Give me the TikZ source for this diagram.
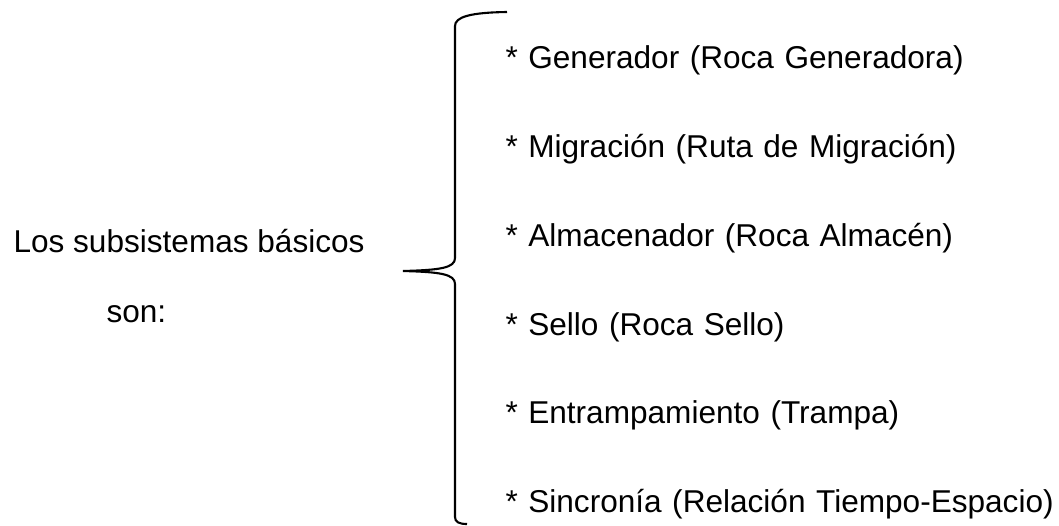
\documentclass[tikz,border=0pt]{standalone}
\usepackage{fontspec}
\setmainfont{Liberation Sans}
\usepackage{tikz}
\usetikzlibrary{positioning}

\begin{document}
\begin{tikzpicture}[
  x=0.38pt, y=-0.38pt,
  node distance=21.36pt,
  label/.style={inner sep=0pt, anchor=base west, font=\fontsize{12pt}{14pt}\selectfont},
  item/.style={inner sep=0pt, text width=215pt, align=left, text height=9pt, text depth=3pt, font=\fontsize{12pt}{14pt}\selectfont},
  brace/.style={draw=black, line width=0.8pt}
]
  \useasboundingbox (0,0) rectangle (1059,525);

  \node[label] (intro) at (13,252) {Los subsistemas básicos};
  \node[label] (son) at (106,322) {son:};

  \node[item, anchor=north west] (gen) at (505,44.3) {* Generador (Roca Generadora)};
  \node[item, below=of gen] (mig) {* Migración (Ruta de Migración)};
  \node[item, below=of mig] (alm) {* Almacenador (Roca Almacén)};
  \node[item, below=of alm] (sello) {* Sello (Roca Sello)};
  \node[item, below=of sello] (trampa) {* Entrampamiento (Trampa)};
  \node[item, below=of trampa] (sinc) {* Sincronía (Relación Tiempo-Espacio)};

  % brace
  \coordinate (top) at (507,12);
  \coordinate (tip) at (403,271);
  \coordinate (bottom) at (467,524);
  \draw[brace] (top) .. controls (470,12.5) and (455,17) .. (455,26)
    -- (455,258) .. controls (455,268) and (440,270) .. (tip)
    .. controls (440,272) and (455,274) .. (455,284)
    -- (455,517) .. controls (455,522) and (459,524) .. (bottom);
\end{tikzpicture}
\end{document}
